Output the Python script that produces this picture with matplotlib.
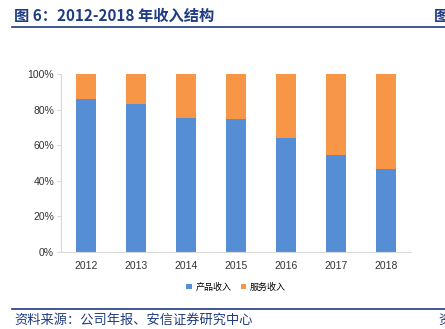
import numpy as np
import matplotlib.pyplot as plt

plt.rcParams['font.family'] = ['Liberation Sans', 'Noto Sans CJK SC', 'DejaVu Sans']

years = ['2012', '2013', '2014', '2015', '2016', '2017', '2018']
product = np.array([85.9, 83.4, 75.2, 74.6, 64.2, 54.6, 46.7])
service = 100 - product

blue = '#558ED5'
orange = '#F79646'
navy = '#1F3B82'

fig = plt.figure(figsize=(4.45, 3.29), dpi=100)
ax = fig.add_axes([61 / 445, 1 - 251.5 / 329, 350 / 445, 177.2 / 329])

x = np.arange(len(years))
ax.bar(x, product, width=0.4, color=blue, label='产品收入')
ax.bar(x, service, width=0.4, bottom=product, color=orange, label='服务收入')

ax.set_xlim(-0.5, len(years) - 0.5)
ax.set_ylim(0, 100)
ax.set_yticks(np.arange(0, 101, 20))
ax.set_yticklabels([f'{v}%' for v in range(0, 101, 20)])
ax.set_xticks(x)
ax.set_xticklabels(years)
ax.tick_params(axis='both', labelsize=7.5, colors='#333333')
ax.tick_params(axis='x', length=0, pad=7)
ax.tick_params(axis='y', length=3, color='#D9D9D9', pad=2)
for s in ['top', 'right']:
    ax.spines[s].set_visible(False)
for s in ['left', 'bottom']:
    ax.spines[s].set_color('#D9D9D9')
    ax.spines[s].set_linewidth(0.8)

fig.legend(loc='center', bbox_to_anchor=(236 / 445, 1 - 287 / 329), ncol=2,
           frameon=False, fontsize=6.5, handlelength=0.6, handleheight=0.6,
           handletextpad=0.4, columnspacing=1.0,
           prop={'family': ['Noto Sans CJK SC'], 'size': 6.5})

# header and footer
fig.text(14 / 445, 1 - 16 / 329, '图 6：2012-2018 年收入结构', fontsize=11,
         fontweight='bold', color=navy, va='center', ha='left',
         family=['Noto Sans CJK SC', 'DejaVu Sans'])
fig.text(434 / 445, 1 - 16 / 329, '图', fontsize=11, fontweight='bold',
         color=navy, va='center', ha='left', family=['Noto Sans CJK SC'])
fig.add_artist(plt.Line2D([12 / 445, 1], [1 - 27 / 329] * 2, color=navy, lw=1.2))
fig.add_artist(plt.Line2D([12 / 445, 1], [1 - 309 / 329] * 2, color=navy, lw=1.2))
fig.text(14 / 445, 1 - 320 / 329, '资料来源：公司年报、安信证券研究中心', fontsize=9.5,
         style='italic', color=navy, va='center', ha='left',
         family=['Noto Sans CJK SC'])
fig.text(438 / 445, 1 - 320 / 329, '资', fontsize=9.5, color=navy,
         va='center', ha='left', family=['Noto Sans CJK SC'])

fig.savefig('out.png', dpi=100)
